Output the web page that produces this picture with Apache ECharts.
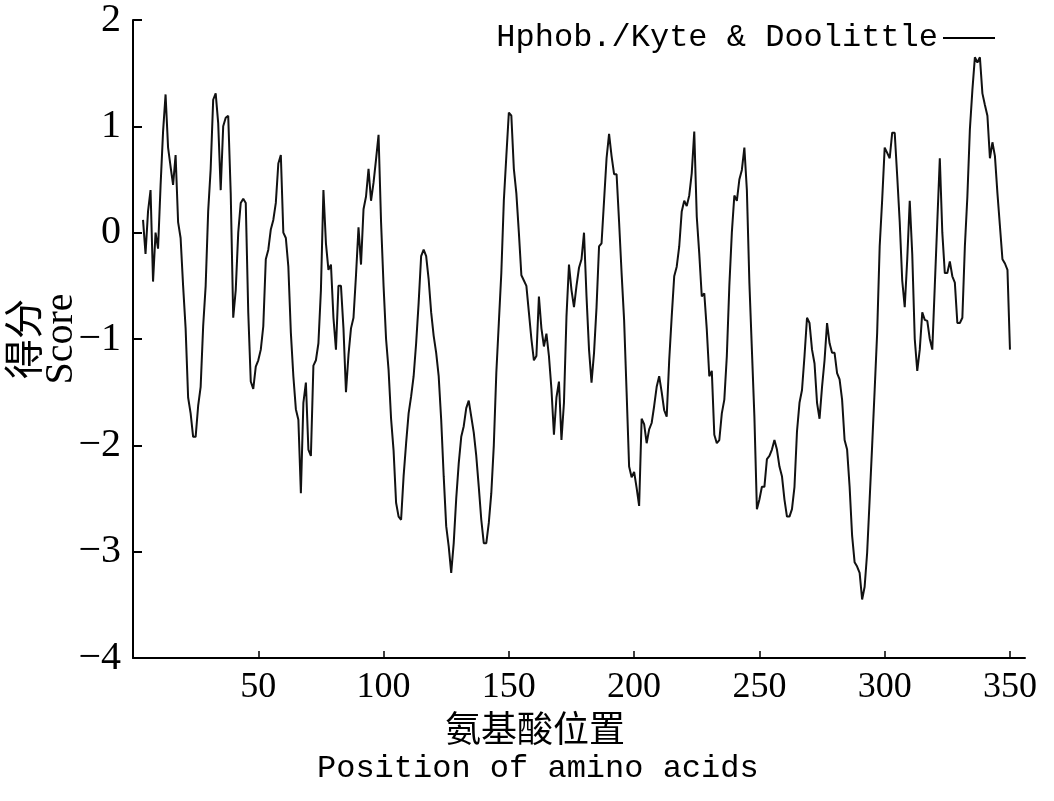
<!DOCTYPE html>
<html>
<head>
<meta charset="utf-8">
<script src="https://cdn.jsdelivr.net/npm/echarts@6/dist/echarts.min.js"></script>
<style>
html,body{margin:0;padding:0;background:#fff;}
#chart{width:1054px;height:801px;}
</style>
</head>
<body>
<div id="chart"></div>
<script>
// ---- data ----
const seriesName = 'Hphob./Kyte & Doolittle';
const firstResidue = 4;   // first plotted amino-acid position
const scores = [
  0.12,-0.2,0.2,0.4,-0.46,0.0,-0.15,0.44,0.95,1.3,            // 4-13
  0.8,0.62,0.45,0.73,0.1,-0.05,-0.5,-0.9,-1.55,-1.7,          // 14-23
  -1.92,-1.92,-1.63,-1.45,-0.88,-0.5,0.2,0.6,1.25,1.31,       // 24-33
  1.03,0.4,1.0,1.08,1.1,0.37,-0.8,-0.54,0.0,0.28,             // 34-43
  0.32,0.28,-0.75,-1.4,-1.47,-1.26,-1.2,-1.1,-0.88,-0.25,     // 44-53
  -0.16,0.03,0.12,0.28,0.65,0.73,0.0,-0.05,-0.32,-0.94,       // 54-63
  -1.35,-1.66,-1.76,-2.45,-1.6,-1.41,-2.04,-2.1,-1.25,-1.2,   // 64-73
  -1.04,-0.54,0.4,-0.1,-0.35,-0.3,-0.8,-1.1,-0.5,-0.5,        // 74-83
  -0.9,-1.5,-1.15,-0.9,-0.8,-0.4,0.05,-0.3,0.22,0.34,         // 84-93
  0.6,0.3,0.47,0.69,0.92,0.1,-0.5,-1.0,-1.29,-1.75,           // 94-103
  -2.05,-2.54,-2.67,-2.7,-2.29,-1.98,-1.7,-1.54,-1.35,-1.04,  // 104-113
  -0.66,-0.22,-0.16,-0.22,-0.44,-0.75,-0.97,-1.13,-1.35,-1.76,// 114-123
  -2.29,-2.76,-2.95,-3.2,-2.92,-2.5,-2.17,-1.92,-1.82,-1.65,  // 124-133
  -1.58,-1.73,-1.88,-2.1,-2.39,-2.7,-2.92,-2.92,-2.73,-2.45,  // 134-143
  -2.0,-1.32,-0.85,-0.38,0.3,0.72,1.13,1.1,0.6,0.37,          // 144-153
  0.0,-0.4,-0.45,-0.5,-0.75,-1.0,-1.2,-1.16,-0.6,-0.9,        // 154-163
  -1.07,-0.95,-1.16,-1.47,-1.9,-1.55,-1.4,-1.95,-1.6,-0.79,   // 164-173
  -0.3,-0.54,-0.7,-0.5,-0.33,-0.25,0.0,-0.6,-1.1,-1.41,       // 174-183
  -1.13,-0.7,-0.13,-0.1,0.3,0.7,0.93,0.72,0.55,0.55,          // 184-193
  0.1,-0.38,-0.82,-1.5,-2.2,-2.3,-2.25,-2.4,-2.57,-1.75,      // 194-203
  -1.8,-1.98,-1.85,-1.79,-1.63,-1.45,-1.35,-1.5,-1.67,-1.73,  // 204-213
  -1.2,-0.79,-0.41,-0.32,-0.13,0.2,0.3,0.25,0.35,0.56,        // 214-223
  0.95,0.15,-0.2,-0.6,-0.57,-0.91,-1.35,-1.3,-1.9,-1.98,      // 224-233
  -1.95,-1.7,-1.57,-1.16,-0.5,0.0,0.35,0.3,0.5,0.59,          // 234-243
  0.8,0.4,-0.47,-1.1,-1.73,-2.6,-2.51,-2.39,-2.39,-2.13,      // 244-253
  -2.1,-2.04,-1.95,-2.04,-2.2,-2.29,-2.51,-2.67,-2.67,-2.6,   // 254-263
  -2.39,-1.87,-1.6,-1.48,-1.16,-0.8,-0.85,-1.1,-1.23,-1.6,    // 264-273
  -1.75,-1.45,-1.2,-0.85,-1.04,-1.13,-1.13,-1.32,-1.38,-1.57, // 274-283
  -1.95,-2.04,-2.39,-2.85,-3.1,-3.14,-3.2,-3.45,-3.33,-3.01,  // 284-293
  -2.51,-2.0,-1.48,-0.94,-0.13,0.31,0.8,0.75,0.7,0.94,        // 294-303
  0.94,0.53,0.1,-0.45,-0.7,-0.25,0.3,-0.2,-1.0,-1.3,          // 304-313
  -1.1,-0.75,-0.82,-0.83,-1.0,-1.1,-0.5,0.1,0.7,0.0,          // 314-323
  -0.38,-0.38,-0.27,-0.41,-0.47,-0.85,-0.85,-0.8,-0.13,0.34,  // 324-333
  0.97,1.34,1.65,1.6,1.65,1.31,1.2,1.1,0.7,0.85,              // 334-343
  0.72,0.37,0.06,-0.25,-0.29,-0.35,-1.1                       // 344-350
];
const xTickValues = [50, 100, 150, 200, 250, 300, 350];
const yTickValues = [-4, -3, -2, -1, 0, 1, 2];
const xTitleCn = '氨基酸位置';
const xTitleEn = 'Position of amino acids';
const yTitleCn = '得分';
const yTitleEn = 'Score';

// ---- chart ----
const points = scores.map((v, i) => [firstResidue + i, v]);
const chart = echarts.init(document.getElementById('chart'), null, {renderer: 'canvas'});
const axisColor = '#000';
chart.setOption({
  animation: false,
  backgroundColor: '#fff',
  grid: {left: 133, right: 29, top: 20, bottom: 143, containLabel: false, outerBoundsMode: 'none'},
  legend: {
    right: 54, top: 17,
    align: 'right',
    icon: 'rect',
    itemWidth: 52, itemHeight: 2, itemGap: 8,
    textStyle: {fontFamily: '"Liberation Mono", monospace', fontSize: 32, color: '#000'},
    data: [{name: seriesName, itemStyle: {color: '#000'}}]
  },
  xAxis: {
    type: 'value', min: 0, max: 356, interval: 50,
    axisLine: {show: true, onZero: false, lineStyle: {color: axisColor, width: 2}},
    axisTick: {show: true, inside: true, length: 7, lineStyle: {color: axisColor, width: 1.5}, customValues: xTickValues},
    axisLabel: {customValues: xTickValues, margin: 12, color: '#000', fontFamily: '"Liberation Serif", serif', fontSize: 36},
    splitLine: {show: false}
  },
  yAxis: {
    type: 'value', min: -4, max: 2, interval: 1,
    axisLine: {show: true, onZero: false, lineStyle: {color: axisColor, width: 2}},
    axisTick: {show: true, inside: true, length: 9, lineStyle: {color: axisColor, width: 2}, customValues: yTickValues},
    axisLabel: {
      customValues: yTickValues, margin: 12, color: '#000',
      fontFamily: '"Liberation Serif", serif', fontSize: 40,
      formatter: v => String(v).replace('-', '\u2212')
    },
    splitLine: {show: false},
    name: '{cn|' + yTitleCn + '}\n{en|' + yTitleEn + '}',
    nameLocation: 'middle', nameRotate: 90, nameGap: 54,
    nameMoveOverlap: false,
    nameTextStyle: {
      color: '#000',
      rich: {
        cn: {fontFamily: '"Noto Sans CJK SC"', fontSize: 40, lineHeight: 40, color: '#000'},
        en: {fontFamily: '"Liberation Serif", serif', fontSize: 40, lineHeight: 36, color: '#000'}
      }
    }
  },
  graphic: [
    {type: 'text', left: 537 - 92, top: 710, style: {text: xTitleCn, font: '36px "Noto Sans CJK SC"', fill: '#000'}},
    {type: 'text', left: 537 - 220, top: 753, style: {text: xTitleEn, font: '32px "Liberation Mono", monospace', fill: '#000'}}
  ],
  series: [{
    name: seriesName,
    type: 'line',
    data: points,
    showSymbol: false,
    symbol: 'none',
    lineStyle: {color: '#111', width: 2},
    itemStyle: {color: '#000'}
  }]
});
</script>
</body>
</html>
